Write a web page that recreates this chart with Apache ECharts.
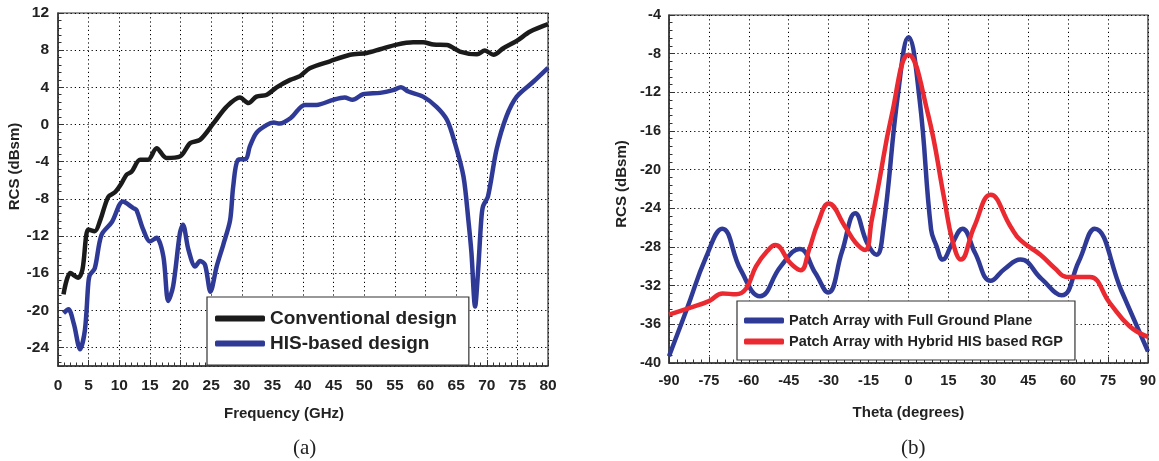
<!DOCTYPE html>
<html>
<head>
<meta charset="utf-8">
<script src="https://cdn.jsdelivr.net/npm/echarts@6/dist/echarts.min.js"></script>
<style>html,body{margin:0;padding:0;background:#fff}#c{width:1159px;height:461px}</style>
</head>
<body>
<div id="c"></div>
<script>
// ---- Panel (a) data ----
const convFreq = [0.9, 2.0, 3.3, 4.0, 4.95, 6.0, 6.9, 8.2, 9.3, 10.4, 11.2, 12.0, 13.4, 14.7, 16.1, 17.7, 19.9, 21.6, 23.2, 25.4, 27.5, 29.7, 31.1, 32.4, 34.1, 35.7, 37.9, 39.5, 41.1, 44.4, 47.7, 50.4, 52.6, 55.3, 58.0, 59.6, 61.3, 63.5, 65.6, 68.4, 69.7, 71.1, 72.7, 74.9, 77.1, 80];
const convRcs = [-18.3, -16.0, -16.5, -15.6, -11.3, -11.5, -10.3, -7.8, -7.3, -6.3, -5.4, -5.1, -3.8, -3.8, -2.55, -3.6, -3.45, -2.0, -1.65, 0.14, 1.9, 2.9, 2.3, 3.0, 3.2, 4.0, 4.8, 5.2, 6.05, 6.8, 7.5, 7.7, 8.1, 8.6, 8.85, 8.85, 8.6, 8.55, 7.85, 7.55, 7.95, 7.5, 8.2, 9.0, 10.0, 10.8];
const hisFreq = [0.9, 1.7, 2.6, 3.6, 4.4, 4.95, 5.2, 6.0, 7.1, 8.8, 10.6, 12.3, 12.8, 13.9, 15.0, 16.1, 17.2, 18.0, 18.8, 19.9, 20.4, 21.3, 22.4, 23.2, 24.0, 24.9, 25.9, 27.0, 28.1, 28.6, 29.4, 30.7, 31.3, 32.4, 34.1, 35.2, 36.2, 38.0, 40.3, 42.2, 44.9, 46.8, 48.1, 49.8, 52.6, 54.7, 56.0, 57.2, 59.6, 61.8, 63.5, 64.8, 66.2, 67.0, 67.5, 68.1, 68.6, 69.1, 69.4, 70.2, 71.6, 73.2, 74.9, 77.6, 80];
const hisRcs = [-20.3, -19.9, -21.5, -24.2, -22.1, -17.1, -16.2, -15.5, -11.9, -10.5, -8.3, -9.0, -9.2, -11.3, -12.6, -12.2, -14.2, -19.0, -17.4, -11.7, -10.8, -13.5, -15.3, -14.7, -15.1, -18.0, -15.3, -12.9, -10.3, -6.7, -3.8, -3.7, -2.4, -0.9, -0.04, 0.2, 0.1, 0.7, 2.1, 2.1, 2.65, 2.9, 2.65, 3.25, 3.4, 3.7, 4.0, 3.55, 3.0, 1.9, 0.5, -2.0, -5.6, -10.3, -13.8, -19.6, -15.6, -10.3, -8.8, -7.75, -2.7, 0.85, 3.0, 4.6, 6.1];
const leftYTicks = [-24, -20, -16, -12, -8, -4, 0, 4, 8, 12];

// ---- Panel (b) data ----
const thetaFull = [-90, -83.4, -76, -70, -63, -55.8, -48, -40.9, -35, -30.2, -25, -20, -15.5, -12, -9.5, -3.9, 0, 4.2, 8.5, 10.4, 12.9, 16.5, 20.3, 25, 30.9, 36, 42.1, 50, 57.6, 64, 70, 80, 90];
const rcsFull = [-39.3, -34.5, -29.0, -26.1, -30.4, -33.1, -30.0, -28.2, -30.7, -32.7, -28.5, -24.5, -27.6, -28.8, -26.2, -12.1, -6.3, -12.8, -26.2, -27.8, -29.3, -27.6, -26.1, -28.6, -31.5, -30.3, -29.3, -31.3, -33.0, -29.5, -26.1, -32.5, -38.8];
const thetaHybrid = [-90, -82.2, -75, -69.8, -64.8, -61, -57.3, -53, -50.1, -44.3, -40.5, -37.4, -34, -30, -23.8, -20, -16.3, -13.8, -11.4, -6.4, 0, 7.3, 13.5, 16.5, 19.7, 24.7, 30.9, 38.4, 42.1, 49.6, 55, 59.5, 64, 68.2, 75.7, 83.1, 90];
const rcsHybrid = [-35.0, -34.3, -33.6, -32.8, -32.9, -32.3, -30.0, -28.4, -27.8, -29.7, -30.4, -28.3, -25.5, -23.5, -25.9, -27.5, -28.3, -25.2, -21.8, -14.5, -8.1, -14.2, -23.1, -27.3, -29.3, -25.9, -22.6, -25.9, -27.3, -28.8, -30.2, -31.1, -31.1, -31.1, -33.8, -36.2, -37.3];

const pairs = (xs, ys) => xs.map((x, i) => [x, ys[i]]);

const FONT = 'Liberation Sans';
const TXT = '#222';
const AX = '#333';
const NAME_STYLE = { fontFamily: FONT, fontWeight: 'bold', fontSize: 15, color: TXT };

function axisCommon(labelSize, margin) {
  return {
    type: 'value',
    axisLine: { show: true, onZero: false, lineStyle: { color: AX, width: 1.5 } },
    axisTick: { show: true, inside: true, length: 6, lineStyle: { color: AX, width: 1 } },
    minorTick: { show: true, splitNumber: 5, length: 3.5, lineStyle: { color: AX, width: 1 } },
    splitLine: { show: true, lineStyle: { color: '#000', width: 1, type: [1.2, 3] } },
    axisLabel: { fontFamily: FONT, fontWeight: 'bold', fontSize: labelSize, color: TXT, margin: margin },
    nameTextStyle: Object.assign({}, NAME_STYLE)
  };
}

function yName(spacer) {
  return {
    name: '{s|}{t|RCS (dBsm)}',
    nameTextStyle: Object.assign({}, NAME_STYLE, {
      rich: { s: { width: spacer }, t: Object.assign({}, NAME_STYLE) }
    })
  };
}

const option = {
  animation: false,
  backgroundColor: '#fff',
  textStyle: { fontFamily: FONT },
  title: [
    { text: '(a)', left: 288, top: 433, textStyle: { fontFamily: 'Liberation Serif', fontSize: 21, fontWeight: 'normal', color: TXT } },
    { text: '(b)', left: 896, top: 433, textStyle: { fontFamily: 'Liberation Serif', fontSize: 21, fontWeight: 'normal', color: TXT } }
  ],
  grid: [
    { left: 58, top: 13, width: 490, height: 353, show: true, borderColor: AX, borderWidth: 1.2, backgroundColor: '#fff' },
    { left: 669, top: 15, width: 483, height: 348, show: true, borderColor: AX, borderWidth: 1.2, backgroundColor: '#fff' }
  ],
  xAxis: [
    (function () {
      const a = axisCommon(15.5, 12);
      a.nameTextStyle.padding = [0, 38, 0, 0];
      return Object.assign(a, {
        gridIndex: 0, min: 0, max: 80, interval: 5,
        name: 'Frequency (GHz)', nameLocation: 'middle', nameGap: 40
      });
    })(),
    Object.assign(axisCommon(14.5, 10), {
      gridIndex: 1, min: -90, max: 90, interval: 15,
      name: 'Theta (degrees)', nameLocation: 'middle', nameGap: 42
    })
  ],
  yAxis: [
    (function () {
      const a = axisCommon(15.5, 9);
      a.axisLabel.formatter = v => (leftYTicks.indexOf(Math.round(v)) >= 0 && Math.abs(v - Math.round(v)) < 1e-6) ? String(Math.round(v)) : '';
      return Object.assign(a, {
        gridIndex: 0, min: -26, max: 12, minInterval: 4, maxInterval: 4,
        nameLocation: 'middle', nameGap: 36
      }, yName(46));
    })(),
    Object.assign(axisCommon(14.5, 8), {
      gridIndex: 1, min: -40, max: -4, interval: 4,
      nameLocation: 'middle', nameGap: 40
    }, yName(10))
  ],
  legend: [
    {
      data: ['Conventional design', 'HIS-based design'],
      orient: 'vertical', left: 207, top: 297,
      itemWidth: 50, itemHeight: 6, itemGap: 6, icon: 'roundRect',
      padding: [12, 12, 12, 8],
      backgroundColor: '#fff', borderColor: AX, borderWidth: 1.2, borderRadius: 0,
      selectedMode: false,
      textStyle: { fontFamily: FONT, fontWeight: 'bold', fontSize: 19, color: TXT }
    },
    {
      data: ['Patch Array with Full Ground Plane', 'Patch Array with Hybrid HIS based RGP'],
      orient: 'vertical', left: 737, top: 301,
      itemWidth: 40, itemHeight: 6, itemGap: 6, icon: 'roundRect',
      padding: [12, 12, 11, 7],
      backgroundColor: '#fff', borderColor: AX, borderWidth: 1.2, borderRadius: 0,
      selectedMode: false,
      textStyle: { fontFamily: FONT, fontWeight: 'bold', fontSize: 14.5, color: TXT }
    }
  ],
  series: [
    { name: 'Conventional design', type: 'line', xAxisIndex: 0, yAxisIndex: 0, data: pairs(convFreq, convRcs),
      showSymbol: false, smooth: 0.3, color: '#1b1b1b', lineStyle: { width: 4.5, color: '#1b1b1b' } },
    { name: 'HIS-based design', type: 'line', xAxisIndex: 0, yAxisIndex: 0, data: pairs(hisFreq, hisRcs),
      showSymbol: false, smooth: 0.3, color: '#2f3a96', lineStyle: { width: 4.5, color: '#2f3a96' } },
    { name: 'Patch Array with Full Ground Plane', type: 'line', xAxisIndex: 1, yAxisIndex: 1, data: pairs(thetaFull, rcsFull),
      showSymbol: false, smooth: 0.45, color: '#2f3a96', lineStyle: { width: 4.5, color: '#2f3a96' } },
    { name: 'Patch Array with Hybrid HIS based RGP', type: 'line', xAxisIndex: 1, yAxisIndex: 1, data: pairs(thetaHybrid, rcsHybrid),
      showSymbol: false, smooth: 0.45, color: '#ea2a30', lineStyle: { width: 4.5, color: '#ea2a30' } }
  ]
};

const chart = echarts.init(document.getElementById('c'), null, { renderer: 'canvas' });
chart.setOption(option);
</script>
</body>
</html>
